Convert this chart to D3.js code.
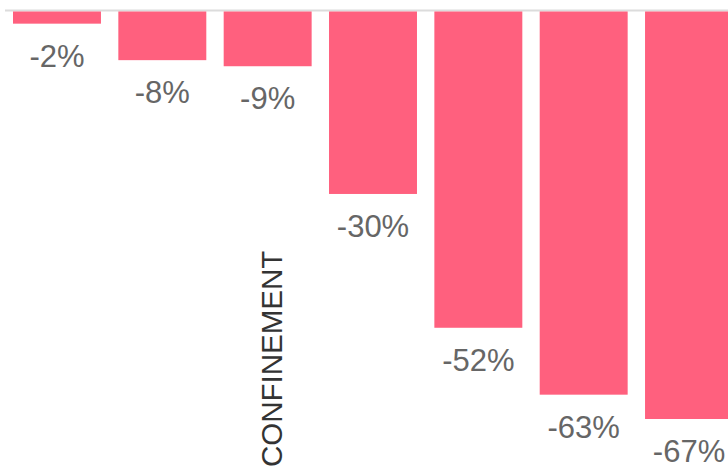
<!DOCTYPE html>
<html lang="en">
<head>
<meta charset="utf-8">
<title>Confinement bars</title>
<style>
  html, body { margin: 0; padding: 0; background: white; overflow: hidden; }
  svg { display: block; font-family: "Liberation Sans", Arial, sans-serif; }
</style>
<script src="https://cdn.jsdelivr.net/npm/d3@7"></script>
</head>
<body>
<script>
  // data
  let categories = ["S1", "S2", "S3", "S4", "S5", "S6", "S7"]
  let values = [-2, -8, -9, -30, -52, -63, -67]
  let labels = ["-2%", "-8%", "-9%", "-30%", "-52%", "-63%", "-67%"]
  let markerCategory = "S3"
  let markerText = "CONFINEMENT"

  let width = 728
  let height = 469

  let svg = d3.select("body").append("svg")
      .attr("width", width)
      .attr("height", height)

  let xScale = d3.scaleBand()
      .domain(categories)
      .range([13, 733])
      .paddingInner(0.165)
      .paddingOuter(0)

  let yScale = d3.scaleLinear()
      .domain([0, -67])
      .range([11.5, 419])

  // zero line
  svg.append("line")
      .attr("x1", 5)
      .attr("x2", width)
      .attr("y1", 10.5)
      .attr("y2", 10.5)
      .attr("stroke", "#dcdcdc")
      .attr("stroke-width", 2)

  let rows = categories.map((c, i) => ({cat: c, value: values[i], label: labels[i]}))

  svg.selectAll("rect.bar")
      .data(rows)
      .enter()
      .append("rect")
      .attr("class", "bar")
      .attr("x", d => xScale(d.cat))
      .attr("y", yScale(0))
      .attr("width", xScale.bandwidth())
      .attr("height", d => yScale(d.value) - yScale(0))
      .attr("fill", "#ff607e")

  svg.selectAll("text.label")
      .data(rows)
      .enter()
      .append("text")
      .attr("class", "label")
      .attr("x", d => xScale(d.cat) + xScale.bandwidth() / 2)
      .attr("y", d => yScale(d.value) + 43)
      .attr("text-anchor", "middle")
      .attr("font-size", 31)
      .attr("fill", "#666666")
      .text(d => d.label)

  // vertical annotation
  let mx = xScale(markerCategory) + xScale.bandwidth() / 2 + 14
  svg.append("text")
      .attr("transform", `translate(${mx},467) rotate(-90)`)
      .attr("text-anchor", "start")
      .attr("font-size", 29.5)
      .attr("fill", "#333333")
      .text(markerText)
</script>
</body>
</html>
